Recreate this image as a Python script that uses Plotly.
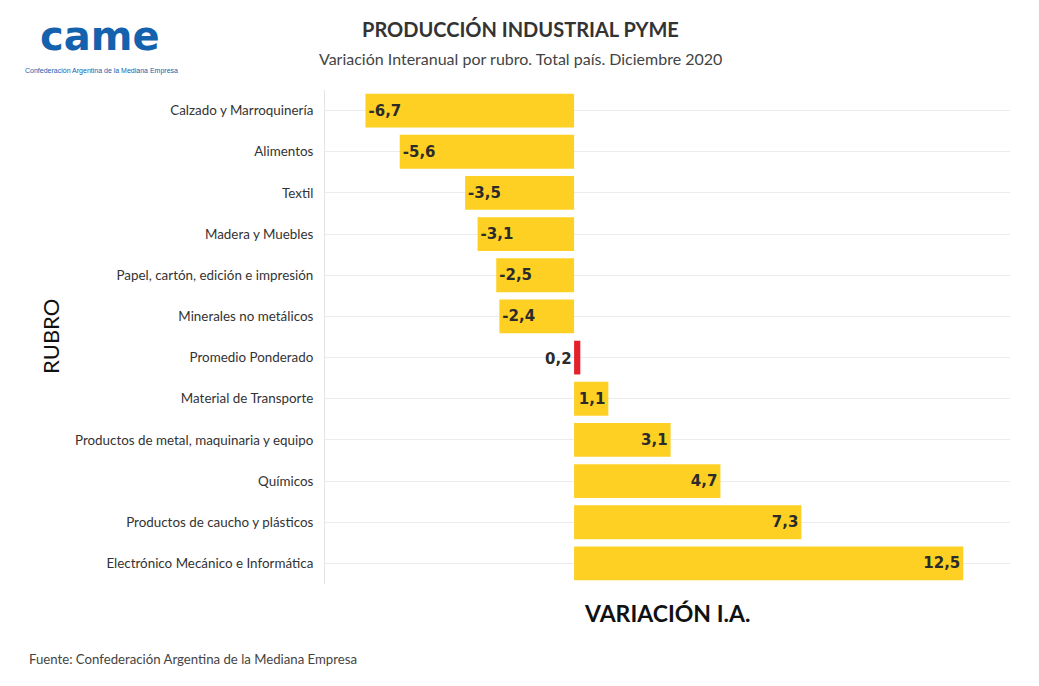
import plotly.graph_objects as go

categories = [
    "Calzado y Marroquinería",
    "Alimentos",
    "Textil",
    "Madera y Muebles",
    "Papel, cartón, edición e impresión",
    "Minerales no metálicos",
    "Promedio Ponderado",
    "Material de Transporte",
    "Productos de metal, maquinaria y equipo",
    "Químicos",
    "Productos de caucho y plásticos",
    "Electrónico Mecánico e Informática",
]
values = [-6.7, -5.6, -3.5, -3.1, -2.5, -2.4, 0.2, 1.1, 3.1, 4.7, 7.3, 12.5]
highlight = "Promedio Ponderado"

YELLOW = "#FDD023"
RED = "#E5202A"

def fmt(v):
    return f"{v:.1f}".replace(".", ",")

colors = [RED if c == highlight else YELLOW for c in categories]
texts = ["" if c == highlight else fmt(v) for c, v in zip(categories, values)]

fig = go.Figure()
fig.add_trace(go.Bar(
    x=values, y=categories, orientation="h",
    marker=dict(color=colors, line=dict(width=0)),
    text=texts, textposition="inside", insidetextanchor="end",
    textfont=dict(family="DejaVu Sans", size=15, color="#2b2b2b", weight="bold"),
    textangle=0, cliponaxis=False, showlegend=False,
))

for c, v in zip(categories, values):
    if c == highlight:
        fig.add_annotation(
            x=0, y=c, xref="x", yref="y", text=fmt(v), showarrow=False,
            xanchor="right", xshift=0, yshift=-1,
            font=dict(family="DejaVu Sans", size=15, color="#2b2b2b", weight="bold"),
        )

fig.update_layout(
    width=1039, height=686,
    margin=dict(l=325, r=29, t=90, b=102),
    paper_bgcolor="white", plot_bgcolor="white",
    bargap=0.18,
    font=dict(family="Lato", color="#333333"),
    xaxis=dict(range=[-8, 14], showgrid=False, zeroline=False, showticklabels=False,
               showline=False, fixedrange=True),
    yaxis=dict(autorange="reversed", showgrid=True, gridcolor="#ececec", gridwidth=1,
               showline=True, linecolor="#e4e4e4", linewidth=1,
               tickfont=dict(family="Lato", size=13.4, color="#333333"),
               ticks="", ticklabelstandoff=8),
)

def add_text(text, xpx, ypx, size, color, family="Lato", xanchor="center", bold=False, angle=0):
    W, H = 1039, 686
    fig.add_annotation(
        text=f"<b>{text}</b>" if bold else text,
        x=(xpx - 325) / (W - 325 - 29), y=1 - (ypx - 90) / (H - 90 - 102),
        xref="paper", yref="paper", showarrow=False, xanchor=xanchor, yanchor="middle",
        textangle=angle, font=dict(family=family, size=size, color=color),
    )

add_text("PRODUCCIÓN INDUSTRIAL PYME", 520, 29, 20, "#333333", bold=True)
add_text("Variación Interanual por rubro. Total país. Diciembre 2020", 520, 58, 16, "#444444")
add_text("RUBRO", 50, 337, 22, "#111111", angle=-90)
add_text("VARIACIÓN I.A.", 667, 613, 23, "#111111", bold=True)
add_text("Fuente: Confederación Argentina de la Mediana Empresa", 27, 659, 13.2, "#444444", xanchor="left")
add_text("came", 100, 36, 40, "#1462AE", family="DejaVu Sans", bold=True)
add_text("Confederación Argentina de la Mediana Empresa", 101, 71, 7, "#1462AE", family="Liberation Sans")

fig.write_html("out.html")
